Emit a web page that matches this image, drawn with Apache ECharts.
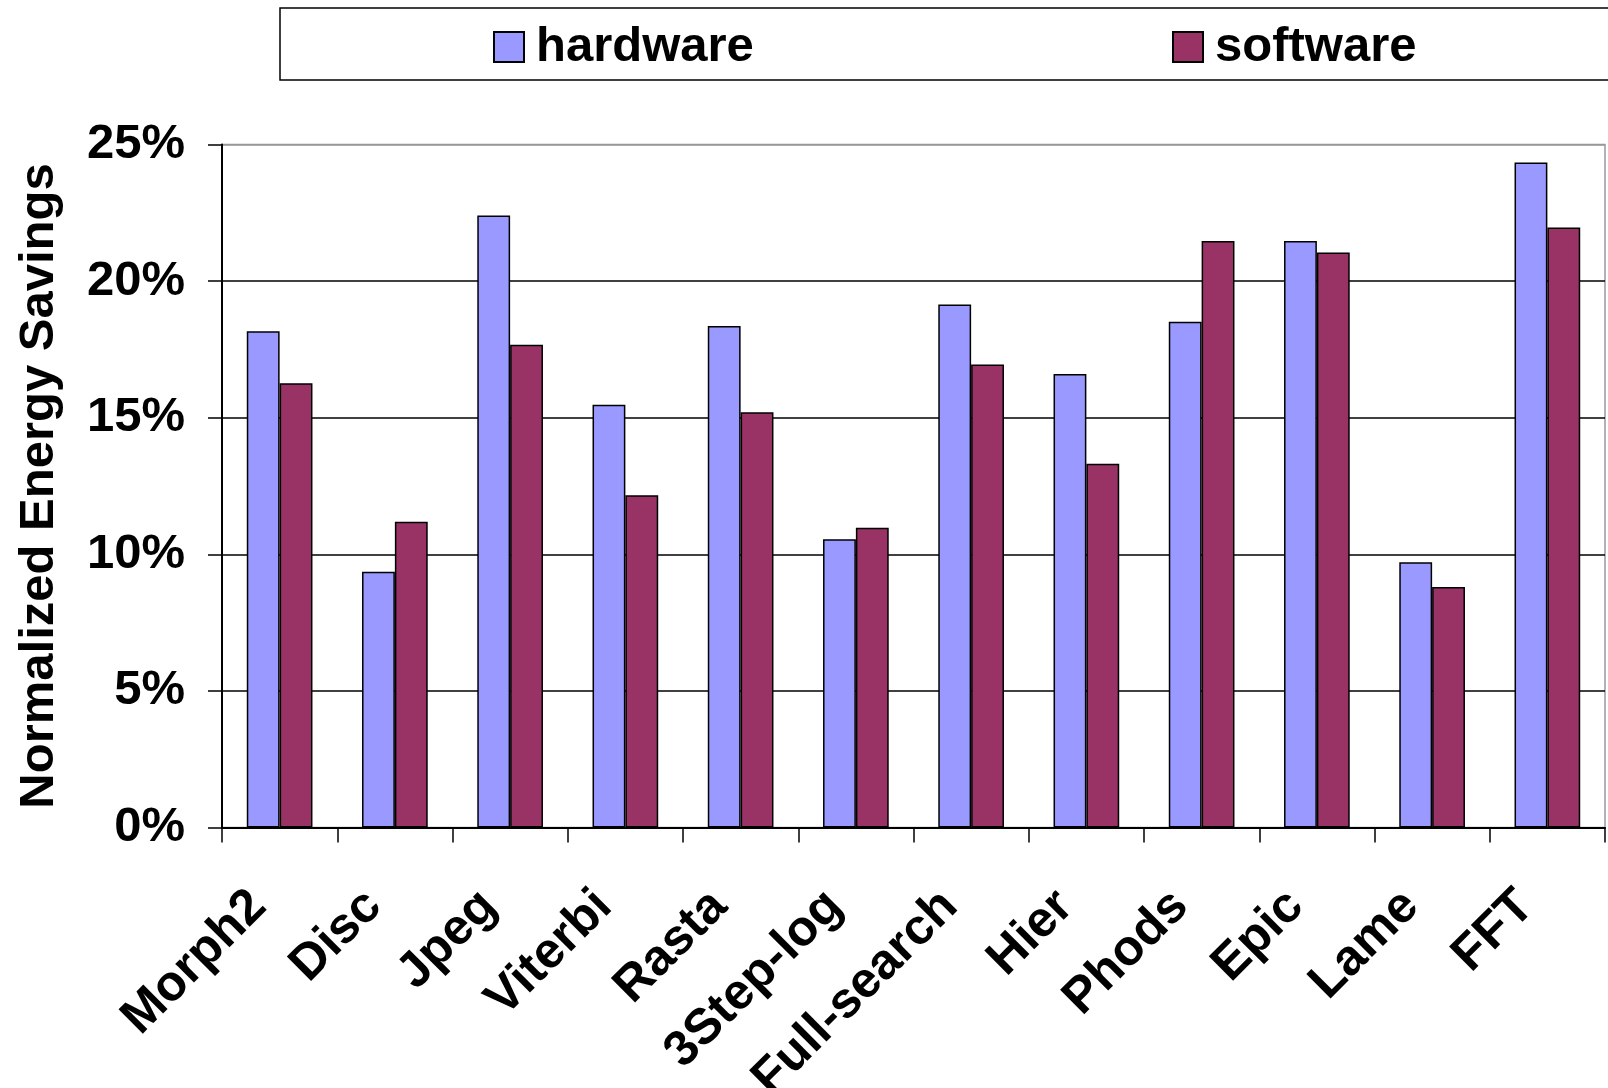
<!DOCTYPE html>
<html>
<head>
<meta charset="utf-8">
<script src="https://cdn.jsdelivr.net/npm/echarts@6/dist/echarts.min.js"></script>
<style>
html,body{margin:0;padding:0;background:#fff;}
#chart{width:1608px;height:1088px;}
</style>
</head>
<body>
<div id="chart"></div>
<script>
// benchmarks
var categories = ['Morph2','Disc','Jpeg','Viterbi','Rasta','3Step-log','Full-search','Hier','Phods','Epic','Lame','FFT'];
// energy savings, percent
var hardware = [18.16, 9.36, 22.40, 15.47, 18.36, 10.55, 19.14, 16.60, 18.51, 21.47, 9.71, 24.34];
var software = [16.26, 11.19, 17.67, 12.16, 15.20, 10.97, 16.95, 13.31, 21.47, 21.05, 8.80, 21.96];
var yTicks = [0, 5, 10, 15, 20, 25];

var font = '"Liberation Sans", Arial, sans-serif';
var chart = echarts.init(document.getElementById('chart'));

var legendText = {fontSize: 49, fontWeight: 'bold', color: '#000', lineHeight: 50, padding: [0,0,0,7]};

var option = {
	animation: false,
	backgroundColor: '#fff',
	textStyle: {fontFamily: font},
	graphic: [{
		//legend box
		type: 'rect',
		shape: {x: 280, y: 8, width: 1340, height: 72},
		style: {fill: '#fff', stroke: '#000', lineWidth: 1.5},
		z: -1
	}],
	legend: [
		{data: ['hardware'], left: 488, top: 17, itemWidth: 30, itemHeight: 30, icon: 'rect', textStyle: legendText},
		{data: ['software'], left: 1167, top: 17, itemWidth: 30, itemHeight: 30, icon: 'rect', textStyle: legendText}
	],
	grid: {
		left: 222, right: 3, top: 144.5, bottom: 260.5,
		outerBoundsMode: 'none', containLabel: false,
		show: true, borderColor: '#999', borderWidth: 1.5
	},
	xAxis: {
		type: 'category',
		data: categories,
		axisLine: {lineStyle: {color: '#000', width: 2}},
		axisTick: {show: true, alignWithLabel: false, length: 15, lineStyle: {color: '#000', width: 1.5}},
		axisLabel: {rotate: 45, margin: 50, padding: [0,30,0,0], fontSize: 50, fontWeight: 'bold', color: '#000', interval: 0}
	},
	yAxis: {
		type: 'value',
		min: 0, max: 25, interval: 5,
		name: 'Normalized Energy Savings',
		nameLocation: 'middle',
		nameRotate: 90,
		nameGap: 158,
		nameTextStyle: {fontSize: 49, fontWeight: 'bold', color: '#000'},
		axisLine: {show: true, lineStyle: {color: '#000', width: 2}},
		axisTick: {show: true, length: 14, lineStyle: {color: '#000', width: 1.5}},
		axisLabel: {
			margin: 37, fontSize: 49, fontWeight: 'bold', color: '#000',
			formatter: function(v){ return yTicks.indexOf(v) >= 0 ? v + '%' : ''; }
		},
		splitLine: {show: true, lineStyle: {color: ['#000','#000','#000','#000','#000','#999'], width: 1.5}}
	},
	series: [
		{
			name: 'hardware', type: 'bar', data: hardware,
			barGap: '0%', barCategoryGap: '43%',
			itemStyle: {color: '#9999FF', borderColor: '#000', borderWidth: 1.5}
		},
		{
			name: 'software', type: 'bar', data: software,
			barGap: '0%', barCategoryGap: '43%',
			itemStyle: {color: '#993366', borderColor: '#000', borderWidth: 1.5}
		}
	]
};
chart.setOption(option);
</script>
</body>
</html>
